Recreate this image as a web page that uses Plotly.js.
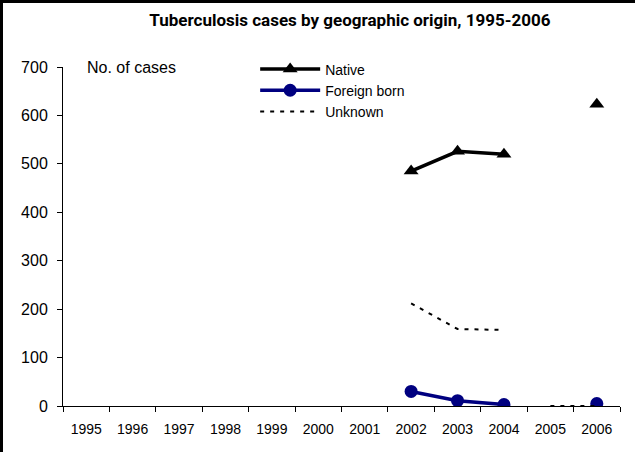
<!DOCTYPE html>
<html>
<head>
<meta charset="utf-8">
<script src="https://cdn.plot.ly/plotly-3.0.1.min.js"></script>
<style>
html,body{margin:0;padding:0;background:#fff;}
#wrap{position:relative;width:635px;height:452px;}
#chart{width:635px;height:452px;}
#frame{position:absolute;left:0;top:0;width:635px;height:452px;box-sizing:border-box;border-left:3px solid #000;border-top:3px solid #000;pointer-events:none;}
</style>
</head>
<body>
<div id="wrap"><div id="chart"></div><div id="frame"></div></div>
<script>
var years = ['1995','1996','1997','1998','1999','2000','2001','2002','2003','2004','2005','2006'];
var nativeCases = [null,null,null,null,null,null,null,485,526,520,null,623];
var foreignCases = [null,null,null,null,null,null,null,30,11,3,null,5];
var unknownYears = ['2002','2003','2004','2005','2005','2006'];
var unknownCases = [212,159,157,null,0,0];

var traces = [
  {x: years, y: nativeCases, name: 'Native', type: 'scatter', mode: 'lines+markers',
   line: {color: '#000000', width: 3.5}, marker: {symbol: 'triangle-up', size: 13, color: '#000000'}},
  {x: years, y: foreignCases, name: 'Foreign born', type: 'scatter', mode: 'lines+markers',
   line: {color: '#000080', width: 3.5}, marker: {symbol: 'circle', size: 13, color: '#000080'}},
  {x: unknownYears, y: unknownCases, name: 'Unknown', type: 'scatter', mode: 'lines',
   line: {color: '#000000', width: 2, dash: '4px,6px'}}
];

var layout = {
  width: 635, height: 452,
  margin: {l: 63, r: 15, t: 67, b: 46},
  paper_bgcolor: '#ffffff', plot_bgcolor: '#ffffff',
  font: {family: 'Liberation Sans, Arial, sans-serif', color: '#000', size: 14},
  title: {text: '<b>Tuberculosis cases by geographic origin, 1995-2006</b>',
    font: {family: 'Roboto, Open Sans, sans-serif', size: 17, color: '#000'},
    x: 0.551, xanchor: 'center', y: 0.955, yanchor: 'middle'},
  xaxis: {type: 'category', tickson: 'boundaries', ticks: 'outside', ticklen: 5, tickcolor: '#000',
    showline: true, linecolor: '#000', linewidth: 1, showgrid: false, zeroline: false,
    tickfont: {size: 14}, ticklabelstandoff: 10, range: [-0.5, 11.5]},
  yaxis: {range: [0, 700], dtick: 100, ticks: 'outside', ticklen: 5, tickcolor: '#000',
    showline: true, linecolor: '#000', linewidth: 1, showgrid: false, zeroline: false,
    tickfont: {size: 16}, ticklabelstandoff: 6},
  showlegend: true,
  legend: {x: 0.345, y: 1.04, xanchor: 'left', yanchor: 'top', bgcolor: 'rgba(0,0,0,0)',
    font: {size: 14}, itemwidth: 60, tracegroupgap: 0},
  annotations: [{text: 'No. of cases', xref: 'paper', yref: 'paper', x: 0.04, y: 1.0,
    xanchor: 'left', yanchor: 'middle', showarrow: false, font: {size: 16}}]
};

Plotly.newPlot('chart', traces, layout, {displayModeBar: false, staticPlot: true});
</script>
</body>
</html>
